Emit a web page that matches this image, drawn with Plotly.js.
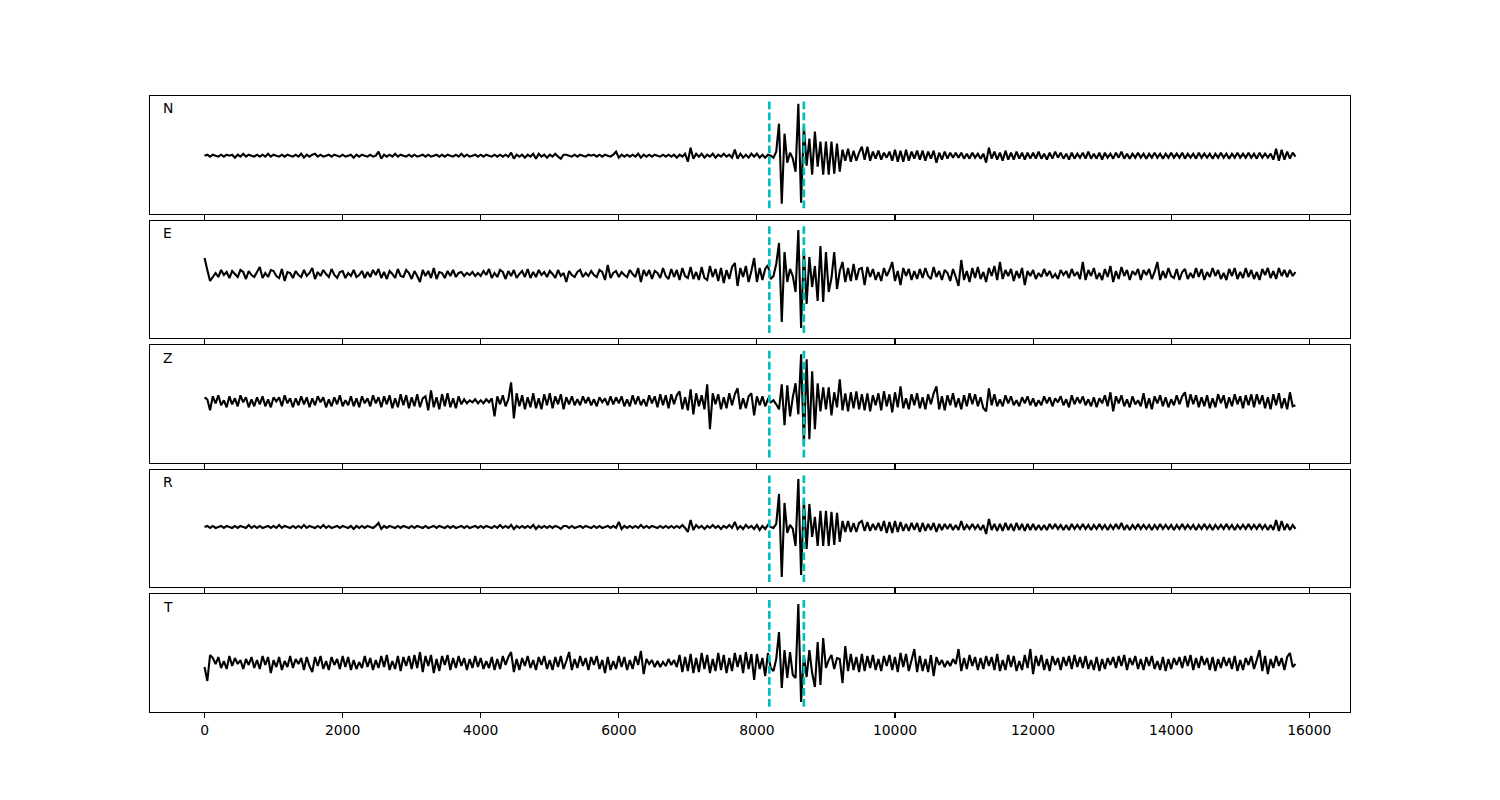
<!DOCTYPE html>
<html>
<head>
<meta charset="utf-8">
<script src="https://cdn.plot.ly/plotly-3.0.1.min.js"></script>
<style>
  html, body { margin: 0; padding: 0; background: #ffffff; }
  #chart { width: 1500px; height: 800px; }
</style>
</head>
<body>
<div id="chart"></div>
<script>
// ---------------- data ----------------
// sample interval of the traces (same unit as the x axis)
const DT = 40;
// pick times drawn as dashed vertical lines
const PICKS = [8180, 8680];
// channel names
const CHANNELS = ['N', 'E', 'Z', 'R', 'T'];
// x tick values
const X_TICKS = [0, 2000, 4000, 6000, 8000, 10000, 12000, 14000, 16000];

// amplitudes, one value per sample (20 samples per row)
const N_AMP = [
  0,1,-1,1,0,-1,1,-1,1,0,1,-2,1,-1,2,-1,1,0,-1,1,
  -1,1,-1,2,-1,1,0,-1,1,-1,1,0,-1,1,-1,2,-2,1,-1,1,
  2,-1,1,-1,0,1,-1,1,0,-1,1,-1,0,1,-2,1,-1,1,0,-1,
  1,-1,0,4,-3,1,-1,1,-1,2,-1,1,0,-1,1,-1,1,-1,0,1,
  -1,1,-1,0,1,-1,1,-1,1,0,-1,1,-1,2,-1,1,-1,0,1,-1,
  1,-1,1,0,-1,1,-1,1,-1,1,-1,3,-3,1,-1,1,-2,1,-1,2,
  -3,2,-1,1,-2,1,-1,2,-1,-3,1,1,0,-1,1,-1,1,0,-1,1,
  0,1,-1,1,-1,1,0,-1,1,4,-2,1,-1,1,-1,1,-1,2,-2,1,
  -1,1,-1,1,0,-1,1,-1,1,-1,1,-2,1,-1,2,-6,8,-3,2,-1,
  2,-2,1,-1,2,-2,1,-1,2,-1,1,-2,6,-3,2,-2,1,-2,2,-1,
  2,-2,1,-2,1,0,-2,4,32,-48,22,-7,3,-3,-16,52,-47,30,-10,17,
  -19,24,-11,14,-19,14,-19,14,-18,12,-16,6,-5,7,-6,5,-5,3,9,-4,
  9,-5,4,-3,5,-4,3,-2,4,-5,6,-6,5,-6,6,-5,4,-3,5,-4,
  5,-5,4,-3,5,-7,3,-4,4,-3,3,-2,3,-2,3,-3,2,-3,3,-2,
  2,-3,2,-7,8,-3,4,-4,3,-5,5,-4,3,-4,4,-3,3,-4,3,-3,
  3,-3,4,-3,2,-4,3,-3,4,-2,3,-3,2,-4,3,-3,2,-2,3,-3,
  4,-3,2,-3,3,-4,3,-2,2,-3,3,-2,4,-3,2,-3,2,-2,3,-2,
  2,-3,2,-2,3,-2,2,-3,2,-2,3,-2,2,-2,3,-3,2,-2,2,-3,
  3,-2,2,-2,2,-3,2,-2,3,-2,2,-3,2,-2,3,-2,2,-2,3,-2,
  2,-3,3,-2,2,-2,2,-4,7,-5,6,-4,4,-3,3,-1
];
const E_AMP = [
  16,4,-7,-3,1,-3,4,-1,2,-4,3,0,-3,4,2,-5,3,-1,-3,2,
  7,-4,1,-3,4,3,-2,-4,5,-7,2,1,-4,3,-1,-3,4,-2,1,6,
  -5,2,-2,4,0,-3,5,-1,-4,2,3,-4,1,-2,4,-3,-1,3,-4,2,
  -3,4,-1,5,-4,2,-5,3,0,-4,5,-2,-3,4,1,-5,3,-2,-8,4,
  -2,3,-4,6,-5,2,1,-4,3,-2,4,-3,1,2,-2,1,-1,2,-2,1,
  -2,3,-1,5,-4,1,-3,4,2,-5,3,-2,4,-4,0,3,-3,5,-4,2,
  -3,4,-1,2,-3,3,0,-4,4,-2,1,-8,3,-1,-3,2,4,-3,1,-2,
  3,-1,-3,4,2,-6,9,-4,1,3,-3,2,-1,-3,4,0,-3,6,-8,4,
  -2,4,-5,3,1,-4,6,-2,-5,5,-3,4,-6,6,-2,-4,7,-5,2,-6,
  7,-4,-6,8,-3,5,-7,6,-9,4,-5,7,11,-12,6,-3,8,-8,3,16,
  -8,6,-6,5,9,-5,-2,10,31,-48,22,-8,5,-2,-18,44,-54,24,-30,17,
  -13,8,-27,28,-28,22,-18,-4,22,-15,3,12,-8,6,-7,10,-6,5,6,-11,
  7,-3,5,-6,2,-7,6,-2,4,12,-7,3,-11,6,-2,5,-6,3,-5,5,
  -4,6,-2,-5,7,-3,3,-6,4,1,-7,5,-3,-12,14,-6,3,-8,6,-4,
  7,-5,2,-8,6,-2,8,-6,12,-5,4,-2,5,-7,3,-4,6,-11,3,-2,
  4,-5,1,-3,5,-2,3,-4,0,-5,4,-1,3,-4,5,-2,2,-5,12,-6,
  4,-2,6,-5,1,-6,5,-3,8,-8,3,-5,7,-2,4,-6,3,-1,5,-6,
  4,-1,5,-5,2,12,-6,3,-4,6,-2,-4,5,-6,2,5,-5,1,-4,6,
  -3,5,-6,2,-3,6,-2,4,-5,1,-6,5,-2,6,-5,2,-4,6,-3,4,
  -5,2,-6,5,-1,6,-4,3,-5,6,-2,4,-3,4,-2,2
];
const Z_AMP = [
  4,2,-9,5,-2,6,-4,1,-6,5,-3,3,-5,6,-1,4,-6,2,-5,4,
  -3,5,-5,2,-6,4,0,4,-5,6,-2,3,-6,3,-4,5,-3,4,-6,3,
  -4,5,-1,4,-6,2,-5,4,-3,6,-5,1,-4,5,-5,3,-6,5,-2,3,
  -5,6,-2,4,-6,5,-3,6,-7,3,-6,7,-4,6,-7,4,-5,7,-6,3,
  5,-9,11,-6,4,-8,7,-5,8,-6,3,-7,5,-3,2,-2,1,-1,2,-2,
  1,-2,2,-1,3,-15,5,-3,6,-5,2,19,-17,8,-5,6,-8,4,-6,8,
  -7,3,-8,7,-4,8,-7,5,-3,7,-8,4,-3,5,-4,2,-4,5,-2,4,
  -4,2,-5,4,-1,3,-4,5,-3,4,-2,5,-5,2,-5,6,-3,5,-4,2,
  -5,6,-2,5,-6,7,-4,6,-7,7,-3,6,10,-8,4,-9,12,-13,8,-5,
  6,-8,17,-28,8,-3,7,-8,4,-7,8,-4,7,13,-8,3,-7,5,8,-14,
  5,-4,5,-5,2,-1,1,-3,-8,17,-24,16,-15,4,18,-13,47,-45,42,-38,
  30,-28,18,-10,14,-8,14,-14,9,-6,22,-9,8,-10,9,-7,10,-8,7,-9,
  8,-10,6,-4,8,-9,10,-5,7,-11,9,-6,15,-7,3,-8,7,-4,8,-7,
  4,-8,7,-3,8,15,-8,5,-9,6,-4,8,-6,3,-8,6,-5,8,-3,7,
  -5,4,-7,-10,13,-4,7,-5,2,-5,6,-2,5,-4,1,-5,4,-2,5,-4,
  3,-5,1,-4,5,-2,4,-5,3,-1,5,-4,2,-6,6,-3,4,-2,5,-4,
  2,-5,4,-6,3,-2,6,-5,9,-10,5,-2,6,-5,2,-6,5,-3,1,-5,
  8,-7,3,-8,5,-2,6,-5,4,-6,2,-4,6,-3,5,9,-6,7,-3,6,
  -6,4,-5,6,-7,3,-6,7,-2,6,-7,4,-5,7,-3,5,-7,6,-4,7,
  -6,7,-3,6,-7,4,-8,7,-4,8,-7,3,-8,9,-5,-4
];
const R_AMP = [
  0,1,-1,1,-1,0,1,-1,1,0,-1,1,-1,1,0,-1,2,-1,1,-1,
  1,-1,0,1,-1,1,-1,2,-1,1,0,-1,1,-1,1,-1,2,-1,1,0,
  -1,1,-1,2,-1,1,-1,0,1,-1,1,0,-1,1,-2,1,-1,1,-1,1,
  0,-1,1,4,-2,1,-1,1,0,-1,1,-1,1,0,-1,1,-1,1,0,-1,
  1,-1,0,1,-1,1,0,-1,1,-1,1,-1,0,1,-1,1,-1,0,1,-1,
  1,-1,1,0,-1,1,-1,2,-1,1,-1,2,-2,1,-1,1,-1,1,-1,2,
  -2,1,-1,1,-1,1,-1,1,0,-2,1,1,-1,1,-1,0,1,-1,1,0,
  -1,1,-1,1,-1,0,1,-1,1,-1,5,-2,1,-1,1,-1,1,-1,2,-1,
  1,-1,1,0,-1,1,-1,1,-1,1,-1,1,-1,2,-1,-5,7,-3,2,-1,
  1,-2,1,-1,2,-1,1,-2,1,-1,2,-1,5,-2,1,-2,2,-1,1,-2,
  2,-3,1,-2,2,0,-1,3,33,-50,24,-6,2,-2,-19,48,-48,28,-22,23,
  -10,10,-19,16,-19,16,-19,15,-18,14,-15,6,-5,6,-5,4,-5,4,6,-4,
  5,-4,3,-3,4,-4,6,-6,5,-6,6,-5,5,-4,3,-4,4,-3,4,-5,
  4,-4,3,-3,4,-5,3,-3,3,-2,3,-3,2,-3,6,-3,2,-2,3,-2,
  2,-3,2,-7,8,-3,3,-4,3,-4,4,-3,3,-4,4,-3,3,-4,3,-3,
  3,-3,2,-3,2,-3,3,-2,3,-2,2,-3,2,-3,3,-2,2,-2,3,-2,
  2,-3,2,-2,3,-2,2,-3,2,-2,3,-2,4,-3,2,-3,2,-2,3,-2,
  2,-2,2,-3,2,-2,3,-2,2,-2,2,-3,2,-2,3,-2,2,-2,2,-3,
  2,-2,3,-2,2,-3,2,-2,2,-2,3,-2,2,-3,2,-2,2,-2,3,-2,
  2,-2,3,-2,2,-3,2,-3,7,-4,6,-3,3,-3,2,-2
];
const T_AMP = [
  -4,-18,8,5,-1,6,-5,2,-6,7,-3,5,-1,3,-6,4,-2,6,-5,3,
  -6,7,-2,6,-10,3,-4,6,-7,2,-4,7,-5,4,-1,5,-7,6,-3,-9,
  6,-3,7,-6,2,-7,6,-2,4,-6,7,-4,6,-7,3,-6,1,-5,7,-4,
  5,-7,3,-5,7,-4,8,-7,2,-6,7,-8,6,-3,7,-6,8,-5,11,-9,
  7,-3,8,-10,4,-8,7,-2,8,-7,5,-5,7,-3,5,-7,4,-5,7,-4,
  5,-6,2,-5,6,-7,4,-6,7,-2,6,11,-9,4,-7,5,-3,7,-5,3,
  -7,6,-2,7,-6,3,-7,6,-4,7,-6,2,11,-7,4,-5,7,-3,5,-7,
  6,-2,7,-6,3,-10,6,-7,2,-6,7,-4,6,-7,3,-6,7,-2,12,-11,
  4,-1,3,-4,2,-4,1,-3,4,-2,3,-4,8,-9,6,-8,9,-10,5,-9,
  10,-6,8,-10,4,-8,10,-7,8,-10,5,-8,10,-4,8,-10,11,-6,9,-17,
  9,-6,5,-13,10,-5,-8,4,31,-25,13,-15,11,-12,-15,59,-39,8,-14,13,
  -10,-24,21,-22,25,-5,3,8,-6,5,4,-20,17,-8,9,-7,6,-9,9,-8,
  7,-5,8,-7,4,-8,7,-3,8,-7,6,-9,10,-4,9,-8,3,14,-9,7,
  -8,4,-9,8,-13,6,-2,3,-4,2,-3,4,-1,14,-8,5,-6,8,-3,6,
  -7,5,-6,7,-3,6,-7,9,-8,3,-7,8,-4,7,-8,2,-7,8,-5,14,
  -11,7,-3,8,-7,4,-8,7,-2,5,-7,6,-3,7,-6,8,-4,6,-5,7,
  -6,3,-7,6,-8,4,-6,5,-2,6,-5,7,-3,8,-7,5,-2,7,-6,4,
  -7,6,-3,7,-6,2,-7,6,-8,4,-6,5,-2,6,-5,7,-3,8,-7,5,
  -5,7,-2,5,-7,6,-8,4,-5,6,-3,5,-6,7,-8,3,-7,5,-2,7,
  -6,3,13,-8,7,-11,4,-5,7,-3,5,-7,6,10,-4,-1
];
const AMPS = [N_AMP, E_AMP, Z_AMP, R_AMP, T_AMP];

// ---------------- layout / style ----------------
const FONT = 'DejaVu Sans, Liberation Sans, sans-serif';
const PLOT_H = 616;           // 800 - 96 - 88
const AX_H = 117.56;
const GAP = 7.05;
const X_RANGE = [-790, 16590];
// visible vertical window of each panel (trace baseline offset inside its box)
const Y_RANGES = [[-57.9, 59.7], [-64.2, 53.4], [-61.5, 56.1], [-60.4, 57.1], [-49.0, 68.6]];

const data = [];
const layout = {
  width: 1500, height: 800,
  margin: { l: 150, r: 150, t: 96, b: 88, pad: 0 },
  paper_bgcolor: '#ffffff', plot_bgcolor: '#ffffff',
  showlegend: false, hovermode: false,
  font: { family: FONT, size: 13.9, color: '#000000' },
  shapes: [], annotations: []
};

AMPS.forEach((amp, k) => {
  const sfx = k === 0 ? '' : String(k + 1);
  const t = amp.map((_, i) => i * DT);
  data.push({
    type: 'scatter', mode: 'lines', x: t, y: amp,
    xaxis: 'x' + sfx, yaxis: 'y' + sfx,
    line: { color: '#000000', width: 2.1, simplify: false },
    hoverinfo: 'skip'
  });
  const top = k * (AX_H + GAP);
  const bot = top + AX_H;
  layout['xaxis' + sfx] = {
    domain: [0, 1], anchor: 'y' + sfx, range: X_RANGE,
    tickmode: 'array', tickvals: X_TICKS, ticktext: X_TICKS.map(String),
    showticklabels: k === AMPS.length - 1,
    ticks: 'outside', ticklen: 4.9, tickwidth: 1.1, tickcolor: '#000000',
    showline: true, linecolor: '#000000', linewidth: 1.1, mirror: true,
    showgrid: false, zeroline: false, fixedrange: true,
    tickfont: { family: FONT, size: 13.9, color: '#000000' }
  };
  layout['yaxis' + sfx] = {
    domain: [1 - bot / PLOT_H, 1 - top / PLOT_H], anchor: 'x' + sfx,
    range: Y_RANGES[k], showticklabels: false, ticks: '',
    showline: true, linecolor: '#000000', linewidth: 1.1, mirror: true,
    showgrid: false, zeroline: false, fixedrange: true
  };
  PICKS.forEach(p => {
    layout.shapes.push({
      type: 'line', xref: 'x' + sfx, yref: 'y' + sfx + ' domain',
      x0: p, x1: p, y0: 0.045, y1: 0.955, layer: 'above',
      line: { color: '#00bfbf', width: 2.7, dash: '7.7px,3.3px' }
    });
  });
  layout.annotations.push({
    text: CHANNELS[k], showarrow: false,
    xref: 'x' + sfx + ' domain', yref: 'y' + sfx + ' domain',
    x: 0.009, y: 0.895, xanchor: 'left', yanchor: 'middle',
    font: { family: FONT, size: 13.9, color: '#000000' }
  });
});

Plotly.newPlot('chart', data, layout, { displayModeBar: false, staticPlot: true });
</script>
</body>
</html>
